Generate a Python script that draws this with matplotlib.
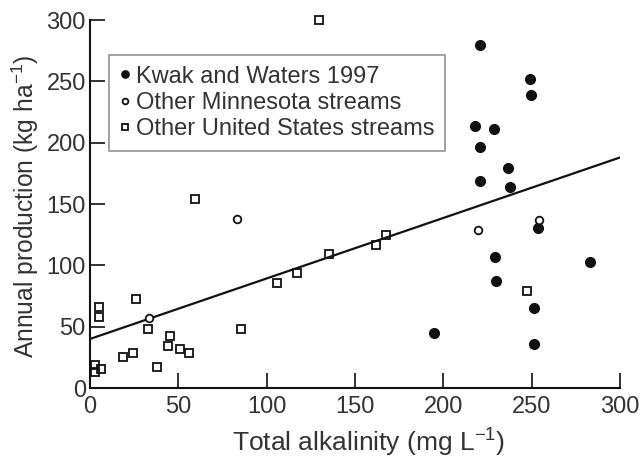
import numpy as np
import matplotlib.pyplot as plt

plt.rcParams['font.family'] = ['Liberation Sans', 'DejaVu Sans']
plt.rcParams['mathtext.default'] = 'regular'

# Kwak and Waters 1997 (filled circles)
kw_x = [221, 249, 249.7, 218, 229, 220.6, 236.4, 221, 237.6, 253.4, 229.3, 230, 283.3, 251.6, 195, 251.6]
kw_y = [279.5, 252, 239, 214, 211, 196.6, 179, 169, 164, 130.6, 106.5, 87, 102.4, 65.2, 45, 35.9]

# Other Minnesota streams (open circles)
mn_x = [219.8, 254.4, 83.5, 33.6]
mn_y = [128.5, 137, 137.7, 57.3]

# Other United States streams (open squares)
us_x = [129.7, 59.3, 161.8, 167.5, 135.4, 117, 106, 85.4, 25.9, 5.3, 5.3, 32.7, 45.5, 44,
        51.2, 55.9, 24.5, 18.9, 37.8, 2.8, 2.8, 6, 247.6]
us_y = [300, 154, 116.3, 125, 109.2, 93.5, 85.3, 47.8, 72.8, 66.3, 58, 47.8, 42.4, 34.2,
        32, 28.8, 28.3, 25, 17.4, 18.7, 13.3, 15.2, 79]

# regression line
reg_intercept = 40
reg_slope = 0.493

ticks = [0, 50, 100, 150, 200, 250, 300]

fig = plt.figure(figsize=(6.41, 4.58), dpi=100)
ax = fig.add_axes([0.1404, 0.1528, 0.8266, 0.8035])

line_x = np.array([0, 300])
ax.plot(line_x, reg_intercept + reg_slope * line_x, color='#111111', lw=1.6, zorder=2)

ax.plot(kw_x, kw_y, 'o', ms=7, mfc='#111111', mec='#111111', ls='none',
        label='Kwak and Waters 1997', zorder=3, clip_on=False)
ax.plot(mn_x, mn_y, 'o', ms=5.5, mfc='white', mec='#111111', mew=1.3, ls='none',
        label='Other Minnesota streams', zorder=3, clip_on=False)
ax.plot(us_x, us_y, 's', ms=5.5, mfc='none', mec='#111111', mew=1.3, ls='none',
        label='Other United States streams', zorder=3, clip_on=False)

ax.set_xlim(0, 300)
ax.set_ylim(0, 300)
ax.set_xticks(ticks)
ax.set_yticks(ticks)
for s in ['top', 'right']:
    ax.spines[s].set_visible(False)
for s in ['left', 'bottom']:
    ax.spines[s].set_linewidth(1.5)
    ax.spines[s].set_color('#111111')
ax.tick_params(direction='in', length=11, width=1.2, labelsize=17,
               colors='#111111', labelcolor='#333333')
ax.tick_params(axis='x', pad=6)
ax.tick_params(axis='y', pad=3)

ax.set_xlabel('Total alkalinity (mg L$^{-1}$)', fontsize=19, color='#333333')
ax.xaxis.set_label_coords(0.525, -0.105)
ax.set_ylabel('Annual production (kg ha$^{-1}$)', fontsize=17.7, color='#333333')
ax.yaxis.set_label_coords(-0.093, 0.492)

leg = ax.legend(loc='upper left', bbox_to_anchor=(0.035, 0.905), borderaxespad=0,
                fontsize=17, handlelength=0.5, handletextpad=0.2, labelspacing=0.18,
                borderpad=0.45, fancybox=False, frameon=True, markerscale=0.75)
leg.get_frame().set_edgecolor('#777777')
leg.get_frame().set_linewidth(1.2)
for t in leg.get_texts():
    t.set_color('#333333')

fig.savefig('out.png', dpi=100)
